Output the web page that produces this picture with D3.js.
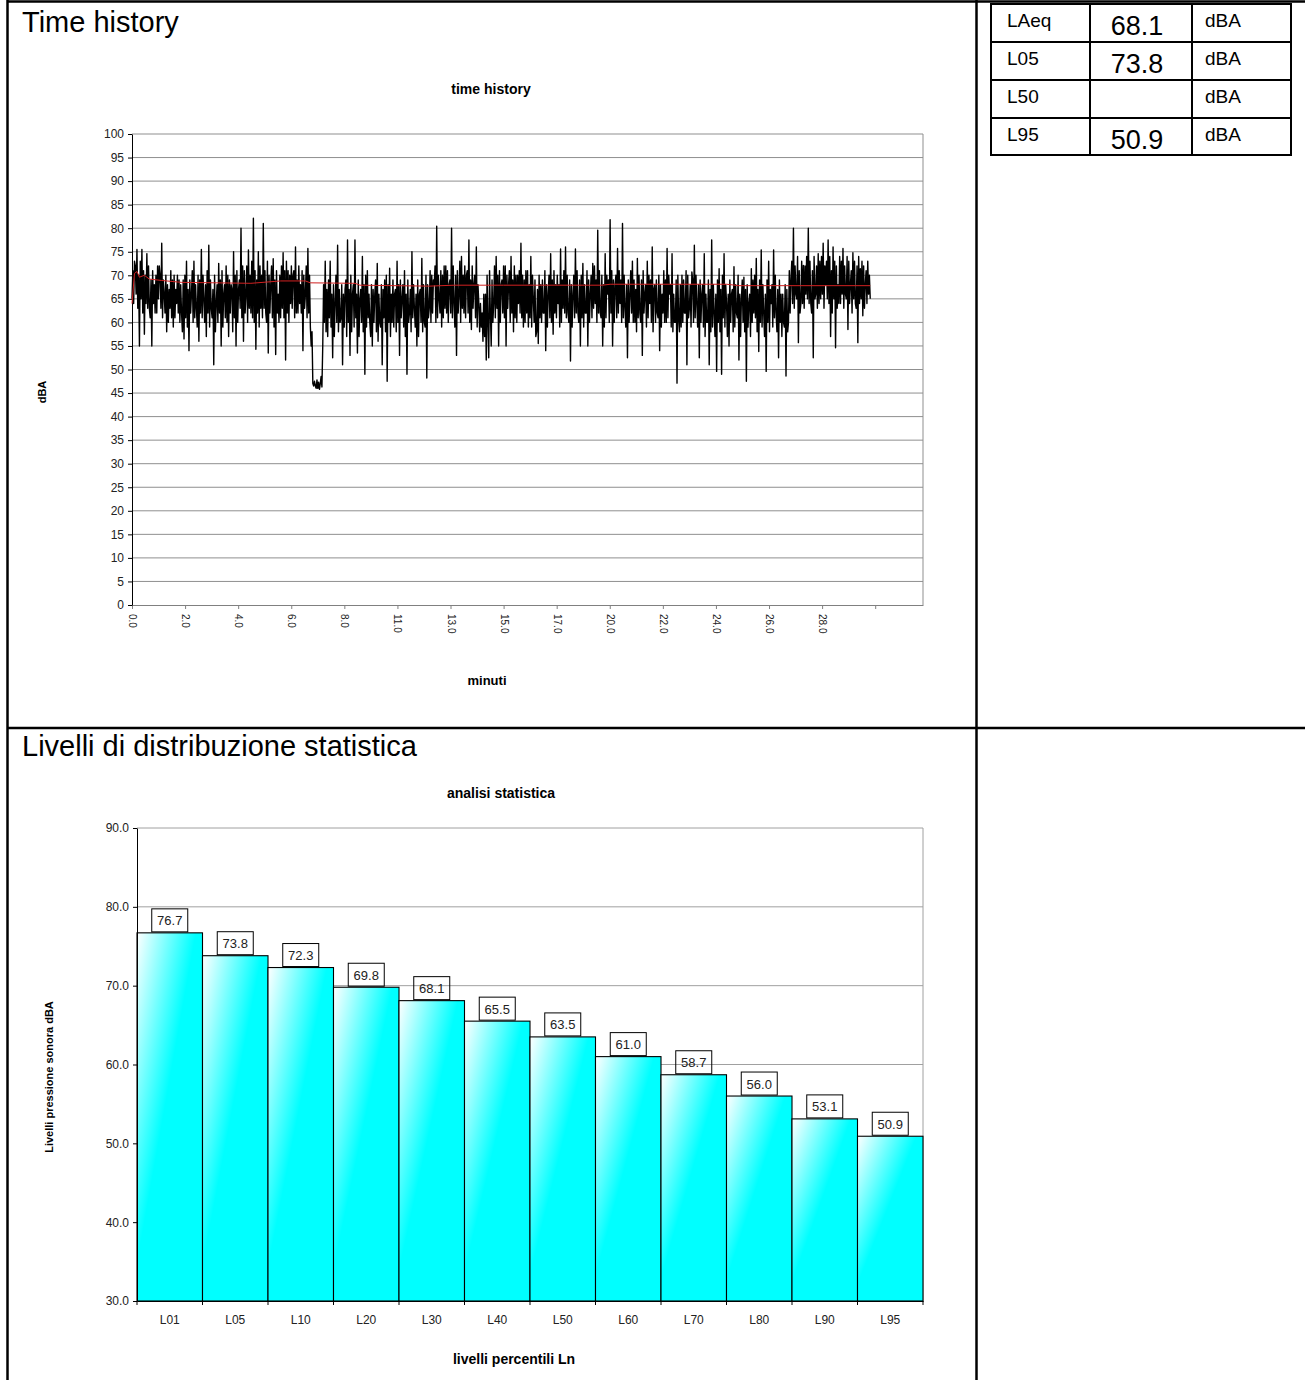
<!DOCTYPE html>
<html>
<head>
<meta charset="utf-8">
<script src="https://cdn.jsdelivr.net/npm/d3@7"></script>
<style>
  body { margin: 0; background: #fff; }
  svg { display: block; font-family: "Liberation Sans", Arial, sans-serif; }
</style>
</head>
<body>
<script>
// --- time history: level every 0.1 min ---
var thStepMin = 0.1;
var thLevel = [
  65, 73, 75.5, 55, 75.5, 57.5, 74.6, 63, 55, 68, 62, 72, 76.8, 66, 58, 67, 61, 70, 64, 69,
  62, 56.5, 73, 54, 66, 73, 63, 56, 75.5, 65, 57, 76.4, 63, 51, 64, 72.5, 55, 66, 72, 57,
  68, 75, 55, 67, 80, 56, 66, 75.4, 62, 82.1, 54.3, 75, 63, 81, 62, 53.5, 68, 73.5, 53.2, 66,
  61, 74.8, 52, 71, 64, 70, 76, 62, 68, 54, 66, 75.7, 59, 47, 46.5, 46, 47, 55, 73, 57,
  73, 52.5, 64, 76.4, 60, 51, 67, 77.5, 53, 66, 77.5, 53.5, 65, 74, 49, 71, 60, 55, 66, 72.5,
  60, 51, 69, 47.5, 71.5, 60, 66, 73, 53, 65, 71, 49, 62, 75, 63, 55, 66, 73.6, 60, 48.2,
  63, 70, 68, 80.4, 65, 59, 72, 62, 68, 80, 64, 53, 66, 74, 62, 70, 77.5, 58.5, 68, 76,
  64, 59, 66, 52, 52.5, 55, 64, 74, 55, 68, 72, 55, 68, 74, 58, 70, 64, 76.8, 59, 71,
  59, 74, 65, 57, 55.5, 68, 62, 54, 66, 74.6, 57.5, 68, 64, 75.6, 63, 76, 62, 51.8, 66, 75.6,
  62, 55, 72.5, 62, 55, 66, 72.5, 64, 79.6, 62, 55, 74.6, 66, 81.8, 55, 68, 75.7, 64, 81, 63,
  52.5, 66, 73, 60, 73.6, 62, 53, 66, 73, 64, 76, 68, 62, 54, 66, 60, 75.7, 66, 74.6, 60,
  47.1, 58, 70, 62, 51, 63, 70.7, 76.4, 64, 52.5, 66, 74.6, 60, 51, 77.5, 62, 49.6, 71.4, 49, 74.6,
  64, 55, 66, 71.8, 62, 52, 65, 69.6, 47.5, 64, 71.4, 62, 73.6, 53.8, 75.4, 62, 49.6, 73, 64, 75.4,
  62, 52.5, 66, 60, 48.6, 60, 69.3, 80, 66, 55.7, 64, 72.1, 66, 80, 64, 52.5, 66, 74.6, 65, 76.8,
  68, 77.5, 57, 76, 54.6, 68, 64, 75.7, 66, 58.5, 68, 74.8, 64, 55.7, 71.4, 61.4, 68, 73, 65
];
// dense core of the trace inside each 0.1 min step (lower and upper swing)
var thCoreLo = [
  64, 66, 63, 65, 62, 64, 63, 61, 64, 62, 65, 63,
  61, 62, 60, 63, 59, 61, 62, 60, 58, 61, 59, 62, 60, 61, 59, 62,
  61, 60, 62, 59, 61, 58, 60, 62, 59, 61, 60, 62, 58, 61, 60, 63, 61,
  62, 60, 63, 61, 60, 62, 59, 61, 63, 60, 62, 61, 59, 62, 60, 63, 61, 62, 60, 63, 61, 62, 64, 62, 63, 61, 62, 55,
  46.5, 46, 45.8, 46.3,
  60, 58, 61, 59, 57, 60, 58, 61, 59, 57, 60, 58, 59, 61, 57, 60, 58, 59, 61, 57, 60, 58, 56, 59, 61, 58, 60, 57, 59, 58, 60, 61,
  59, 57, 60, 58, 61, 59, 57, 60, 58, 59, 61, 60, 62, 60, 61, 62,
  61, 63, 60, 62, 61, 59, 62, 60, 63, 61, 62, 60, 63, 61, 59, 58, 56, 57, 60, 62, 60, 61, 63, 60, 62, 61, 63, 60, 62, 61, 60, 62, 61,
  60, 62, 61, 59, 60, 58, 61, 60, 62, 59, 61, 60, 62, 61, 59, 60, 62, 61, 60, 59,
  61, 62, 60, 61, 59, 62, 60, 61, 63, 60, 62, 61, 59, 61, 60, 62, 60, 61, 62, 60,
  61, 59, 60, 62, 60, 58, 61, 60, 62, 59, 61, 60, 58, 60, 61, 59, 62, 60, 61, 59, 58, 60, 61, 59, 60, 62, 61, 59, 60, 61, 59, 60,
  59, 57, 60, 58, 59, 57, 60, 58, 61, 59, 57, 60, 58, 59, 61, 57, 60, 58, 59, 57, 60, 61, 58, 60, 59, 57, 60, 58, 59, 61, 58, 60, 57, 59, 58,
  62, 64, 63, 65, 62, 64, 63, 65, 64, 62, 65, 63, 64, 66, 63, 65, 64, 62, 65, 63, 64, 66, 63, 65, 64, 62, 65, 63, 64, 65, 63, 64, 66
];
var thCoreHi = [
  71, 72, 70, 73, 71, 70, 72, 69, 71, 70, 72, 70,
  69, 70, 68, 71, 69, 67, 70, 68, 69, 70, 67, 69, 71, 68, 70, 69,
  70, 68, 71, 69, 67, 70, 68, 69, 71, 68, 70, 69, 67, 70, 71, 69, 72,
  71, 72, 70, 73, 71, 69, 72, 70, 71, 73, 70, 72, 69, 71, 70, 72, 71, 73, 70, 72, 71, 69, 72, 71, 70, 72, 70, 58,
  47.5, 47.8, 47.3, 48.5,
  68, 67, 69, 66, 68, 70, 67, 68, 66, 69, 67, 70, 68, 66, 69, 67, 68, 70, 66, 68, 67, 69, 66, 68, 67, 70, 68, 66, 69, 67, 68, 69,
  68, 66, 69, 67, 68, 66, 69, 67, 68, 70, 68, 71, 69, 72, 70, 71,
  70, 72, 71, 69, 72, 70, 71, 73, 70, 72, 71, 69, 72, 70, 68, 64, 62, 66, 70, 71, 69, 72, 70, 71, 69, 72, 70, 71, 69, 72, 70, 71, 70,
  69, 71, 68, 70, 69, 67, 70, 69, 71, 68, 70, 69, 71, 70, 68, 69, 71, 70, 69, 68,
  70, 71, 69, 70, 68, 71, 69, 70, 72, 69, 71, 70, 68, 70, 69, 71, 69, 70, 71, 69,
  70, 68, 69, 71, 69, 67, 70, 69, 71, 68, 70, 69, 67, 69, 70, 68, 71, 69, 70, 68, 66, 69, 70, 68, 69, 71, 70, 68, 69, 70, 68, 69,
  68, 66, 69, 67, 68, 66, 69, 67, 70, 68, 66, 69, 67, 68, 70, 66, 69, 67, 68, 66, 69, 70, 67, 69, 68, 66, 69, 67, 68, 70, 67, 69, 66, 68, 67,
  71, 73, 72, 74, 71, 73, 72, 74, 73, 71, 74, 72, 73, 74, 72, 73, 74, 71, 73, 72, 74, 73, 72, 74, 73, 71, 73, 72, 74, 73, 72, 71, 70
];
// running LAeq (red line), sample index -> level
var leqIdx = [0, 1, 2, 3, 5, 7, 12, 20, 48, 60, 70, 72, 90, 92, 120, 130, 150, 190, 193, 240, 245, 298];
var leqVal = [64, 70.4, 70.8, 69.6, 70.0, 69.2, 68.9, 68.5, 68.3, 68.8, 68.8, 68.4, 68.3, 67.9, 67.7, 67.9, 67.9, 67.9, 68.1, 68.1, 67.8, 67.8];
var thTickLabels = ["0.0", "2.0", "4.0", "6.0", "8.0", "11.0", "13.0", "15.0", "17.0", "20.0", "22.0", "24.0", "26.0", "28.0", ""];
var thTickStep = 30 / 14;
var thMaxMin = 31.93;
var thYTicks = d3.range(0, 101, 5);

// --- summary table ---
var tabNames = ["LAeq", "L05", "L50", "L95"];
var tabValues = ["68.1", "73.8", "", "50.9"];
var tabUnit = "dBA";

// --- percentile levels ---
var pctLabels = ["L01", "L05", "L10", "L20", "L30", "L40", "L50", "L60", "L70", "L80", "L90", "L95"];
var pctValues = [76.7, 73.8, 72.3, 69.8, 68.1, 65.5, 63.5, 61.0, 58.7, 56.0, 53.1, 50.9];
var pctYTicks = [30, 40, 50, 60, 70, 80, 90];

var svg = d3.select("body").append("svg")
    .attr("width", 1305)
    .attr("height", 1380);

var defs = svg.append("defs");
var grad = defs.append("linearGradient")
    .attr("id", "cyanGrad")
    .attr("x1", 0).attr("y1", 0).attr("x2", 1).attr("y2", 1);
grad.append("stop").attr("offset", 0).attr("stop-color", "#ffffff");
grad.append("stop").attr("offset", 0.45).attr("stop-color", "#00ffff");
grad.append("stop").attr("offset", 1).attr("stop-color", "#00ffff");

// page frame
var frame = svg.append("g").attr("stroke", "#000").attr("stroke-width", 2.5);
frame.append("line").attr("x1", 7.5).attr("y1", 1.5).attr("x2", 1305).attr("y2", 1.5);
frame.append("line").attr("x1", 7.5).attr("y1", 0).attr("x2", 7.5).attr("y2", 1380);
frame.append("line").attr("x1", 976.5).attr("y1", 0).attr("x2", 976.5).attr("y2", 1380);
frame.append("line").attr("x1", 7.5).attr("y1", 728).attr("x2", 1305).attr("y2", 728);

svg.append("text").attr("x", 22).attr("y", 32).attr("font-size", 29).text("Time history");
svg.append("text").attr("x", 22).attr("y", 756).attr("font-size", 29).text("Livelli di distribuzione statistica");

// table
var rowY = [4, 42, 80, 118, 155];
var colX = [991, 1090, 1192, 1291];
var tab = svg.append("g");
tab.append("rect").attr("x", colX[0]).attr("y", rowY[0])
    .attr("width", colX[3] - colX[0]).attr("height", rowY[4] - rowY[0])
    .attr("fill", "none").attr("stroke", "#000").attr("stroke-width", 2);
tab.selectAll("line.r").data(rowY.slice(1, 4)).enter().append("line")
    .attr("x1", colX[0]).attr("x2", colX[3])
    .attr("y1", function(d) { return d; }).attr("y2", function(d) { return d; })
    .attr("stroke", "#000").attr("stroke-width", 2);
tab.selectAll("line.c").data(colX.slice(1, 3)).enter().append("line")
    .attr("y1", rowY[0]).attr("y2", rowY[4])
    .attr("x1", function(d) { return d; }).attr("x2", function(d) { return d; })
    .attr("stroke", "#000").attr("stroke-width", 2);
tab.selectAll("text.n").data(tabNames).enter().append("text")
    .attr("x", 1007).attr("y", function(d, i) { return rowY[i] + 23; })
    .attr("font-size", 19).text(function(d) { return d; });
tab.selectAll("text.v").data(tabValues).enter().append("text")
    .attr("x", 1137).attr("y", function(d, i) { return rowY[i] + 31; })
    .attr("text-anchor", "middle").attr("font-size", 27).text(function(d) { return d; });
tab.selectAll("text.u").data(tabNames).enter().append("text")
    .attr("x", 1205).attr("y", function(d, i) { return rowY[i] + 23; })
    .attr("font-size", 19).text(tabUnit);

// ---------- chart 1: time history ----------
var x1 = d3.scaleLinear().domain([0, thMaxMin]).range([132, 923]);
var y1 = d3.scaleLinear().domain([0, 100]).range([605, 134]);
var c1 = svg.append("g");

c1.selectAll("line.grid").data(thYTicks.filter(function(d) { return d > 0; })).enter().append("line")
    .attr("x1", 132).attr("x2", 923)
    .attr("y1", function(d) { return y1(d); }).attr("y2", function(d) { return y1(d); })
    .attr("stroke", "#8f8f8f").attr("stroke-width", 1);
c1.append("line").attr("x1", 923).attr("x2", 923).attr("y1", y1(100)).attr("y2", y1(0))
    .attr("stroke", "#8f8f8f");

var xa1 = c1.append("g").attr("transform", "translate(0,605)")
    .call(d3.axisBottom(x1)
        .tickValues(thTickLabels.map(function(d, i) { return i * thTickStep; }))
        .tickFormat(function(d, i) { return thTickLabels[i]; })
        .tickSize(4).tickSizeOuter(0));
xa1.select(".domain").attr("stroke", "#808080");
xa1.selectAll(".tick line").attr("stroke", "#808080");
xa1.selectAll("text")
    .attr("transform", "rotate(90)")
    .attr("text-anchor", "start")
    .attr("x", 9).attr("y", 0).attr("dy", "0.35em")
    .attr("font-size", 10).attr("fill", "#222");

var ya1 = c1.append("g").attr("transform", "translate(132,0)")
    .call(d3.axisLeft(y1).tickValues(thYTicks).tickSize(4).tickSizeOuter(0).tickPadding(4));
ya1.select(".domain").attr("stroke", "#000");
ya1.selectAll("text").attr("font-size", 12).attr("fill", "#222");

// trace: each step goes level -> core swing -> core swing -> next level
var trace = [];
thLevel.forEach(function(v, i) {
    var t = i * thStepMin;
    trace.push([t, v]);
    if (i < thLevel.length - 1) {
        var down = v >= thLevel[i + 1];
        trace.push([t + thStepMin / 3, down ? thCoreLo[i] : thCoreHi[i]]);
        trace.push([t + 2 * thStepMin / 3, down ? thCoreHi[i] : thCoreLo[i]]);
    }
});
var line1 = d3.line()
    .x(function(d) { return x1(d[0]); })
    .y(function(d) { return y1(d[1]); });
c1.append("path").datum(trace).attr("d", line1)
    .attr("fill", "none").attr("stroke", "#000").attr("stroke-width", 1.4)
    .attr("stroke-linejoin", "round");

var leqLine = d3.line()
    .x(function(d, i) { return x1(leqIdx[i] * thStepMin); })
    .y(function(d) { return y1(d); });
c1.append("path").datum(leqVal).attr("d", leqLine)
    .attr("fill", "none").attr("stroke", "#d02020").attr("stroke-width", 1);

c1.append("text").attr("x", 491).attr("y", 94).attr("text-anchor", "middle")
    .attr("font-size", 14).attr("font-weight", "bold").text("time history");
c1.append("text").attr("x", 487).attr("y", 685).attr("text-anchor", "middle")
    .attr("font-size", 13).attr("font-weight", "bold").text("minuti");
c1.append("text").attr("transform", "translate(46,392) rotate(-90)").attr("text-anchor", "middle")
    .attr("font-size", 11).attr("font-weight", "bold").text("dBA");

// ---------- chart 2: percentile levels ----------
var x2 = d3.scaleBand().domain(pctLabels).range([137, 923]).padding(0);
var y2 = d3.scaleLinear().domain([30, 90]).range([1301, 828]);
var c2 = svg.append("g");

c2.selectAll("line.grid").data(pctYTicks.filter(function(d) { return d > 30; })).enter().append("line")
    .attr("x1", 137).attr("x2", 923)
    .attr("y1", function(d) { return y2(d); }).attr("y2", function(d) { return y2(d); })
    .attr("stroke", "#a0a0a0").attr("stroke-width", 1);
c2.append("line").attr("x1", 923).attr("x2", 923).attr("y1", y2(90)).attr("y2", y2(30))
    .attr("stroke", "#a0a0a0");

c2.selectAll("rect.bar").data(pctValues).enter().append("rect")
    .attr("x", function(d, i) { return x2(pctLabels[i]); })
    .attr("y", function(d) { return y2(d); })
    .attr("width", x2.bandwidth())
    .attr("height", function(d) { return y2(30) - y2(d); })
    .attr("fill", "url(#cyanGrad)").attr("stroke", "#000").attr("stroke-width", 1.1);

c2.selectAll("rect.lab").data(pctValues).enter().append("rect")
    .attr("x", function(d, i) { return x2(pctLabels[i]) + x2.bandwidth() / 2 - 18; })
    .attr("y", function(d) { return y2(d) - 24; })
    .attr("width", 36).attr("height", 23)
    .attr("fill", "none").attr("stroke", "#000").attr("stroke-width", 1);
c2.selectAll("text.lab").data(pctValues).enter().append("text")
    .attr("x", function(d, i) { return x2(pctLabels[i]) + x2.bandwidth() / 2; })
    .attr("y", function(d) { return y2(d) - 7.5; })
    .attr("text-anchor", "middle").attr("font-size", 13).attr("fill", "#222")
    .text(function(d) { return d.toFixed(1); });

var xa2 = c2.append("g").attr("transform", "translate(0,1301)")
    .call(d3.axisBottom(x2).tickSize(0).tickSizeOuter(0).tickPadding(14));
xa2.select(".domain").attr("stroke", "#000");
xa2.selectAll("text").attr("font-size", 12).attr("fill", "#222");
c2.selectAll("line.xt").data(pctLabels.concat([""])).enter().append("line")
    .attr("x1", function(d, i) { return i < pctLabels.length ? x2(d) : 923; })
    .attr("x2", function(d, i) { return i < pctLabels.length ? x2(d) : 923; })
    .attr("y1", 1301).attr("y2", 1305).attr("stroke", "#000");

var ya2 = c2.append("g").attr("transform", "translate(137,0)")
    .call(d3.axisLeft(y2).tickValues(pctYTicks).tickFormat(d3.format(".1f"))
        .tickSize(4).tickSizeOuter(0).tickPadding(4));
ya2.select(".domain").attr("stroke", "#000");
ya2.selectAll("text").attr("font-size", 12).attr("fill", "#222");

c2.append("text").attr("x", 501).attr("y", 798).attr("text-anchor", "middle")
    .attr("font-size", 14).attr("font-weight", "bold").text("analisi statistica");
c2.append("text").attr("x", 514).attr("y", 1364).attr("text-anchor", "middle")
    .attr("font-size", 14).attr("font-weight", "bold").text("livelli percentili Ln");
c2.append("text").attr("transform", "translate(53,1077) rotate(-90)").attr("text-anchor", "middle")
    .attr("font-size", 11).attr("font-weight", "bold").text("Livelli pressione sonora dBA");
</script>
</body>
</html>
